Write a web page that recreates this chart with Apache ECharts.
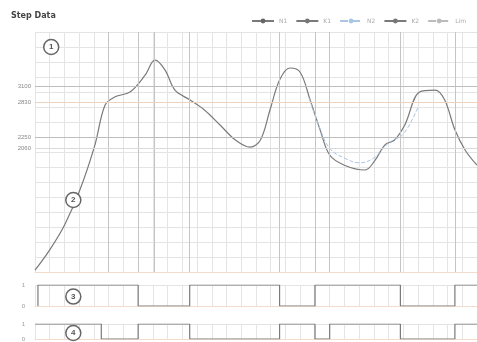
<!DOCTYPE html>
<html>
<head>
<meta charset="utf-8">
<script src="https://cdn.jsdelivr.net/npm/echarts@6/dist/echarts.min.js"></script>
<style>html,body{margin:0;padding:0;background:#fff}#c{width:477px;height:342px}</style>
</head>
<body>
<div id="c"></div>
<script>
// Time axis (s) and speed trace
const speedN1 = [
  [0,30],[1.0,370],[2.0,780],[3.05,1370],[4.07,2120],[4.75,2780],[5.43,2920],[6.45,3000],
  [7.47,3280],[8.14,3530],[8.82,3370],[9.5,3030],[10.5,2870],[11.5,2700],[12.56,2450],
  [13.6,2200],[14.6,2080],[15.3,2200],[15.95,2700],[16.6,3200],[17.3,3400],[18.0,3330],
  [18.67,2870],[19.35,2370],[20.0,1950],[21.0,1780],[22.4,1700],[23.1,1870],[23.75,2120],
  [24.4,2200],[25.1,2450],[26.1,3000],[27.15,3030],[27.8,2870],[28.5,2370],[29.2,2030],[30,1780]
];
const speedN2 = [
  [18.6,2900],[19.3,2420],[20.0,2060],[21.0,1900],[22.0,1820],[23.0,1900],[24.0,2150],
  [25.0,2300],[26.0,2750]
];
// Reference levels
const levels = [3100, 2830, 2250, 2060];
// Event times
const events = [5.0, 7.0, 8.1, 10.5, 16.6, 19.0, 20.0, 24.8, 28.5];
// Digital signals (value holds until the next point)
const gateK1 = [[0.2,0],[0.2,1],[7.0,0],[10.5,1],[16.6,0],[19.0,1],[24.8,0],[28.5,1],[30,1]];
const valveK2 = [[0,1],[4.5,0],[7.0,1],[10.5,0],[16.6,1],[19.0,0],[20.0,1],[24.8,0],[28.5,1],[30,1]];

const chart = echarts.init(document.getElementById('c'));
const gridLine = {show:true, lineStyle:{color:'#e4e4e4', width:1}};
const circled = (coord, txt) => ({
  coord: coord, value: txt, symbol:'circle', symbolSize:15,
  itemStyle:{color:'#fff', borderColor:'#666', borderWidth:1.5},
  label:{show:true, formatter: txt, color:'#555', fontSize:8, fontWeight:'bold'}
});
const evLines = () => events.map(v => ({xAxis:v}));

chart.setOption({
  animation:false,
  backgroundColor:'#fff',
  title:{text:'Step Data', left:6, top:7, textStyle:{fontSize:8, fontWeight:'bold', color:'#444', fontFamily:'DejaVu Sans'}},
  legend:{
    right:6, top:13, itemWidth:22, itemHeight:6, itemGap:8,
    textStyle:{fontSize:6, color:'#aaa', fontFamily:'DejaVu Sans'},
    data:['N1','K1','N2','K2','Lim']
  },
  grid:[
    {left:35, right:0, top:32, bottom:70},
    {left:35, right:0, top:285, height:21},
    {left:35, right:0, top:324, height:21}
  ],
  xAxis:[0,1,2].map(i => ({
    type:'value', gridIndex:i, min:0, max:30, interval:1,
    axisLabel:{show:false}, axisTick:{show:false},
    axisLine:{show:true, lineStyle:{color:'#f3dccb'}},
    splitLine:gridLine
  })),
  yAxis:[
    {type:'value', gridIndex:0, min:0, max:4000, interval:250,
     axisLabel:{show:false}, axisTick:{show:false}, axisLine:{show:false}, splitLine:gridLine},
    {type:'value', gridIndex:1, min:0, max:1, interval:1,
     axisLabel:{fontSize:6, color:'#999', margin:10}, axisTick:{show:false}, axisLine:{show:false}, splitLine:gridLine},
    {type:'value', gridIndex:2, min:0, max:1, interval:1,
     axisLabel:{fontSize:6, color:'#999', margin:10}, axisTick:{show:false}, axisLine:{show:false}, splitLine:gridLine}
  ],
  series:[
    {
      name:'N1', type:'line', xAxisIndex:0, yAxisIndex:0, data:speedN1, smooth:0.35,
      showSymbol:false, symbol:'circle', color:'#666',
      lineStyle:{color:'#7a7a7a', width:1.2},
      markLine:{
        silent:true, symbol:'none',
        lineStyle:{color:'#c4c4c4', width:1, type:'solid'},
        label:{show:false},
        data: evLines()
      },
      markPoint:{data:[circled([1.1,3750],'1'), circled([2.6,1200],'2')]}
    },
    {
      name:'N2', type:'line', xAxisIndex:0, yAxisIndex:0, data:speedN2, smooth:0.4,
      showSymbol:false, symbol:'circle', color:'#a9c6e4',
      lineStyle:{color:'#a9c6e4', width:1, type:'dashed'}
    },
    {
      name:'Lim', type:'line', xAxisIndex:0, yAxisIndex:0, data:[],
      symbol:'circle', color:'#bbb', lineStyle:{color:'#bbb', type:'dashed', width:1},
      markLine:{
        silent:true, symbol:'none',
        label:{show:true, position:'start', fontSize:6, color:'#888', distance:4},
        data:[
          {yAxis:levels[0], lineStyle:{color:'#bdbdbd', width:1, type:'solid'}},
          {yAxis:levels[1], lineStyle:{color:'#edd2bd', width:1, type:'solid'}},
          {yAxis:levels[2], lineStyle:{color:'#bdbdbd', width:1, type:'solid'}},
          {yAxis:levels[3], lineStyle:{color:'#dadada', width:1, type:'solid'}}
        ]
      }
    },
    {
      name:'K1', type:'line', xAxisIndex:1, yAxisIndex:1, data:gateK1, step:'end',
      showSymbol:false, symbol:'circle', color:'#777',
      lineStyle:{color:'#7a7a7a', width:1.2},
      markPoint:{data:[circled([2.6,0.45],'3')]}
    },
    {
      name:'K2', type:'line', xAxisIndex:2, yAxisIndex:2, data:valveK2, step:'end',
      showSymbol:false, symbol:'circle', color:'#777',
      lineStyle:{color:'#7a7a7a', width:1.2},
      markPoint:{data:[circled([2.6,0.4],'4')]}
    }
  ]
});
</script>
</body>
</html>
